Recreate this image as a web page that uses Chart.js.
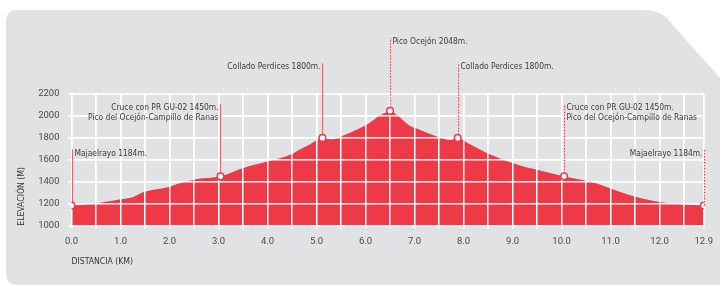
<!DOCTYPE html>
<html>
<head>
<meta charset="utf-8">
<script src="https://cdn.jsdelivr.net/npm/chart.js@4/dist/chart.umd.min.js"></script>
<style>
  html, body { margin: 0; padding: 0; background: #fff; }
  #wrap { width: 720px; height: 285px; }
</style>
</head>
<body>
<div id="wrap"><canvas id="perfil"></canvas></div>
<script>
// elevation profile (km, m)
const distKm = [0, 0.45, 1.0, 1.25, 1.46, 2.0, 2.14, 2.54, 3.04, 3.52, 4.03, 4.5, 4.64, 4.84, 5.12, 5.32, 5.52, 6.07, 6.27, 6.4, 6.5, 6.67, 6.88, 7.08, 7.56, 7.73, 7.88, 8.1, 8.57, 9.12, 9.52, 10.05, 10.7, 11.08, 11.62, 12.1, 12.37, 12.9];
const elevM  = [1184, 1200, 1240, 1259, 1304, 1355, 1377, 1423, 1450, 1528, 1589, 1653, 1690, 1735, 1800, 1787, 1817, 1933, 1999, 2029, 2048, 1999, 1917, 1878, 1796, 1781, 1800, 1750, 1644, 1553, 1507, 1450, 1386, 1325, 1250, 1210, 1198, 1184];

// waypoints
const markerKm   = [0, 3.04, 5.12, 6.5, 7.88, 10.05, 12.9];
const markerElev = [1184, 1450, 1800, 2048, 1800, 1450, 1184];
const markerTop  = [1695, 2110, 2480, 2710, 2480, 2110, 1695];
const markerText = [
  ['Majaelrayo 1184m.'],
  ['Cruce con PR GU-02 1450m.', 'Pico del Ocejón-Campillo de Ranas'],
  ['Collado Perdices 1800m.'],
  ['Pico Ocejón 2048m.'],
  ['Collado Perdices 1800m.'],
  ['Cruce con PR GU-02 1450m.', 'Pico del Ocejón-Campillo de Ranas'],
  ['Majaelrayo 1184m.']
];
const markerSide   = ['right', 'left', 'left', 'right', 'right', 'right', 'left'];
const markerDotted = [false, false, false, true, true, true, true];

// axes
const xTicks = [0, 0.5, 1, 1.5, 2, 2.5, 3, 3.5, 4, 4.5, 5, 5.5, 6, 6.5, 7, 7.5, 8, 8.5, 9, 9.5, 10, 10.5, 11, 11.5, 12, 12.5, 12.9];
const xLabels = [0, 1, 2, 3, 4, 5, 6, 7, 8, 9, 10, 11, 12, 12.9];
const yTicks = [1000, 1200, 1400, 1600, 1800, 2000, 2200];

const RED = '#ee3a47';
const PANEL = '#e1e2e4';
const NARROW = '"DejaVu Sans Condensed", "Liberation Sans Narrow", sans-serif';

// grey card behind everything, with the cut corner top right
const panelBg = {
  id: 'panelBg',
  beforeDraw(chart) {
    const ctx = chart.ctx;
    ctx.save();
    ctx.fillStyle = PANEL;
    ctx.beginPath();
    ctx.moveTo(6, 22);
    ctx.quadraticCurveTo(6, 10, 18, 10);
    ctx.lineTo(645, 10);
    ctx.quadraticCurveTo(662, 10, 672, 24);
    ctx.lineTo(720, 78);
    ctx.lineTo(720, 285);
    ctx.lineTo(18, 285);
    ctx.quadraticCurveTo(6, 285, 6, 273);
    ctx.closePath();
    ctx.fill();
    ctx.restore();
  }
};

// white grid on top of the red area, then the leader lines and labels
const overlay = {
  id: 'overlay',
  afterDatasetDraw(chart, args) {
    if (args.index !== 0) return;
    const { ctx, chartArea } = chart;
    chart.scales.x.drawGrid(chartArea);
    chart.scales.y.drawGrid(chartArea);

    const x = chart.scales.x, y = chart.scales.y;
    ctx.save();
    ctx.font = '8.4px ' + NARROW;
    ctx.textBaseline = 'middle';
    markerKm.forEach((km, i) => {
      const px = Math.round(x.getPixelForValue(km)) + 0.5;
      const py0 = y.getPixelForValue(markerElev[i]);
      const py1 = y.getPixelForValue(markerTop[i]);
      ctx.strokeStyle = markerDotted[i] ? RED : '#e8646e';
      ctx.lineWidth = 1;
      ctx.setLineDash(markerDotted[i] ? [1.5, 1.5] : []);
      ctx.beginPath();
      ctx.moveTo(px, py0);
      ctx.lineTo(px, py1);
      ctx.stroke();

      ctx.fillStyle = '#3a3a3a';
      const right = markerSide[i] === 'right';
      ctx.textAlign = right ? 'left' : 'right';
      const tx = right ? px + 2 : px - 2;
      markerText[i].forEach((line, j) => {
        ctx.fillText(line, tx, py1 + 4 + j * 10);
      });
    });
    ctx.restore();
  }
};

new Chart(document.getElementById('perfil'), {
  type: 'line',
  data: {
    datasets: [
      {
        label: 'Elevación',
        data: distKm.map((d, i) => ({ x: d, y: elevM[i] })),
        fill: 'start',
        backgroundColor: RED,
        borderWidth: 0,
        pointRadius: 0,
        cubicInterpolationMode: 'monotone',
        order: 2
      },
      {
        label: 'Puntos',
        data: markerKm.map((d, i) => ({ x: d, y: markerElev[i] })),
        showLine: false,
        pointRadius: 3.3,
        pointBackgroundColor: '#ffffff',
        pointBorderColor: RED,
        pointBorderWidth: 1.5,
        order: 1
      }
    ]
  },
  options: {
    responsive: true,
    maintainAspectRatio: false,
    animation: false,
    layout: { padding: { left: 8, right: 13.5, top: 94, bottom: 0 } },
    plugins: { legend: { display: false }, tooltip: { enabled: false } },
    scales: {
      x: {
        type: 'linear',
        min: 0,
        max: 12.9,
        afterBuildTicks: s => { s.ticks = xTicks.map(v => ({ value: v })); },
        afterFit: s => { s.height = 59.3; },
        grid: { color: '#ffffff', lineWidth: 1.5, tickLength: 3 },
        border: { display: false },
        ticks: {
          autoSkip: false,
          maxRotation: 0,
          padding: 7,
          color: '#4a4a4a',
          font: { family: 'Roboto', size: 9.5 },
          callback: v => (xLabels.includes(v) ? v.toFixed(1) : '')
        },
        title: {
          display: true,
          text: 'DISTANCIA (KM)',
          align: 'start',
          color: '#333333',
          font: { family: NARROW, size: 8.6 },
          padding: { top: 0, bottom: 18.5 }
        }
      },
      y: {
        min: 1000,
        max: 2200,
        afterBuildTicks: s => { s.ticks = yTicks.map(v => ({ value: v })); },
        afterFit: s => { s.width = 63.5; },
        grid: { color: '#ffffff', lineWidth: 1.5, tickLength: 3 },
        border: { display: false },
        ticks: {
          padding: 9,
          color: '#4a4a4a',
          font: { family: 'Roboto', size: 9.5 },
          callback: v => String(v)
        },
        title: {
          display: true,
          text: 'ELEVACIÓN (M)',
          align: 'start',
          color: '#333333',
          font: { family: NARROW, size: 8.6 },
          padding: { top: 9, bottom: 0 }
        }
      }
    }
  },
  plugins: [panelBg, overlay]
});
</script>
</body>
</html>
